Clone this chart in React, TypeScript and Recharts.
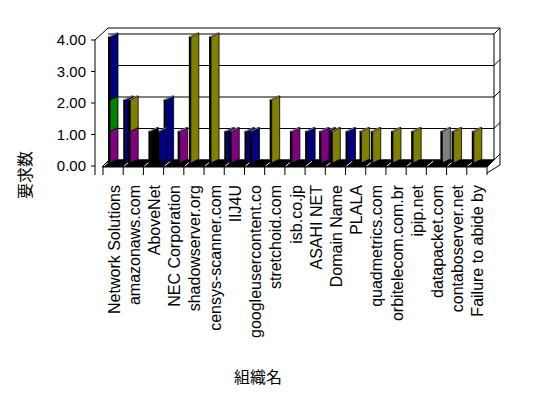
import { Bar, BarChart, CartesianGrid, ReferenceArea, XAxis, YAxis } from "recharts"

const NAVY = "#000080"
const PURPLE = "#800080"
const GREEN = "#008000"
const OLIVE = "#808000"
const GRAY = "#808080"
const BLACK = "#000000"

const categories = [
  "Network Solutions",
  "amazonaws.com",
  "AboveNet",
  "NEC Corporation",
  "shadowserver.org",
  "censys-scanner.com",
  "IIJ4U",
  "googleusercontent.co",
  "stretchoid.com",
  "isb.co.jp",
  "ASAHI NET",
  "Domain Name",
  "PLALA",
  "quadmetrics.com",
  "orbitelecom.com.br",
  "ipip.net",
  "datapacket.com",
  "contaboserver.net",
  "Failure to abide by",
]

// back-left slot
const slotA = [0, 2, 0, 2, 0, 0, 1, 1, 0, 0, 1, 1, 1, 0, 0, 0, 0, 0, 0]
const slotAColors = [NAVY, NAVY, NAVY, NAVY, NAVY, NAVY, NAVY, NAVY, NAVY, NAVY, NAVY, NAVY, NAVY, NAVY, NAVY, NAVY, NAVY, NAVY, NAVY]

// middle slot, visible segments from bottom up
const slotB1 = [1, 1, 1, 0, 4, 4, 1, 1, 2, 1, 0, 1, 0, 1, 1, 1, 0, 1, 1]
const slotB1Colors = [PURPLE, PURPLE, BLACK, OLIVE, OLIVE, OLIVE, PURPLE, NAVY, OLIVE, PURPLE, OLIVE, OLIVE, OLIVE, OLIVE, OLIVE, OLIVE, OLIVE, OLIVE, OLIVE]
const slotB2 = [1, 1, 0, 0, 0, 0, 0, 0, 0, 0, 0, 0, 0, 0, 0, 0, 0, 0, 0]
const slotB2Colors = [GREEN, OLIVE, OLIVE, OLIVE, OLIVE, OLIVE, OLIVE, OLIVE, OLIVE, OLIVE, OLIVE, OLIVE, OLIVE, OLIVE, OLIVE, OLIVE, OLIVE, OLIVE, OLIVE]
const slotB3 = [2, 0, 0, 0, 0, 0, 0, 0, 0, 0, 0, 0, 0, 0, 0, 0, 0, 0, 0]
const slotB3Colors = [NAVY, NAVY, NAVY, NAVY, NAVY, NAVY, NAVY, NAVY, NAVY, NAVY, NAVY, NAVY, NAVY, NAVY, NAVY, NAVY, NAVY, NAVY, NAVY]

// right slot
const slotR = [0, 0, 1, 1, 0, 0, 0, 0, 0, 0, 1, 0, 1, 0, 0, 0, 1, 0, 0]
const slotRColors = [NAVY, NAVY, NAVY, PURPLE, NAVY, NAVY, NAVY, NAVY, NAVY, NAVY, PURPLE, NAVY, OLIVE, NAVY, NAVY, NAVY, GRAY, NAVY, NAVY]

const yTicks = [0, 1, 2, 3, 4]

const data = categories.map((name, i) => ({
  name,
  a: slotA[i],
  b1: slotB1[i],
  b2: slotB2[i],
  b3: slotB3[i],
  r: slotR[i],
}))

const LATIN = "'Liberation Sans', Arial, sans-serif"
const CJK = "'Noto Sans CJK JP', sans-serif"

function Box3D({ x, y, height, color }: any) {
  if (!height || height < 0.5) return null
  const s = 2
  const g = 10
  const d = 4
  const x1 = x + s
  const x2 = x + g
  const bot = y + height
  return (
    <g>
      <polygon points={`${x1},${bot} ${x1},${y} ${x2},${y - d} ${x2},${bot - d}`} fill={color} stroke="#000" strokeWidth={0.8} />
      <rect x={x} y={y} width={s} height={height} fill="#000" />
      <polygon points={`${x},${y} ${x1},${y} ${x2},${y - d} ${x2 - s},${y - d}`} fill="#fff" stroke="#000" strokeWidth={0.5} />
    </g>
  )
}

function Frame({ x, y, width, height }: any) {
  const L = x
  const R = x + width
  const T = y
  const B = y + height
  const step = width / categories.length
  return (
    <g stroke="#000" fill="none">
      <polygon points={`${L - 1},${B + 4} ${R},${B + 4} ${R + 7},${B - 3} ${L + 6},${B - 3}`} fill="#000" />
      {categories.map((_, i) => (
        <line key={i} x1={L + i * step + 1} y1={B + 3} x2={L + i * step + 7} y2={B - 2} stroke="#fff" />
      ))}
      <line x1={L + 5} y1={T - 9} x2={R + 13} y2={T - 9} />
      <line x1={L - 8} y1={T + 3} x2={L + 5} y2={T - 9} />
      <line x1={R + 13} y1={T - 9} x2={R + 13} y2={B + 2} />
      <line x1={R + 7} y1={T - 3} x2={R + 7} y2={B - 3} />
      <line x1={R + 13} y1={B + 2} x2={R} y2={B + 10} />
      <line x1={L - 8} y1={T + 3} x2={L - 8} y2={B + 12} />
    </g>
  )
}

function GridLine({ x1, y1, x2 }: any) {
  return (
    <g stroke="#000" fill="none">
      <line x1={x1 + 5} y1={y1 - 3} x2={x2 + 7} y2={y1 - 3} />
      <line x1={x2 + 7} y1={y1 - 3} x2={x2 + 13} y2={y1 - 9} />
    </g>
  )
}

function CategoryTick({ x, y, payload, index, visibleTicksCount }: any) {
  const half = payload && typeof payload.offset === "number" && payload.offset > 0 ? payload.offset : 10.1
  const left = x - half
  const last = index === visibleTicksCount - 1
  return (
    <g>
      <line x1={left} y1={y + 4} x2={left} y2={y + 12} stroke="#000" />
      {last && <line x1={x + half} y1={y + 4} x2={x + half} y2={y + 12} stroke="#000" />}
      <text
        x={x + 1}
        y={y + 22}
        transform={`rotate(-90 ${x + 1} ${y + 22})`}
        textAnchor="end"
        dominantBaseline="central"
        fontSize={16}
        fontFamily={LATIN}
        fill="#000"
      >
        {payload.value}
      </text>
    </g>
  )
}

function ValueTick({ x, y, payload }: any) {
  return (
    <g>
      <line x1={x - 12} y1={y + 3} x2={x - 8} y2={y + 3} stroke="#000" />
      <text x={x - 17} y={y + 3} dy="0.35em" textAnchor="end" fontSize={15} fontFamily={LATIN} fill="#000">
        {Number(payload.value).toFixed(2)}
      </text>
    </g>
  )
}

export default function App() {
  return (
    <div style={{ position: "absolute", left: 0, top: 0, width: 548, height: 398, background: "#fff" }}>
      <BarChart width={548} height={398} data={data} margin={{ top: 37, right: 61, bottom: 0, left: 0 }} barGap={0}>
        <CartesianGrid vertical={false} horizontal={(p: any) => <GridLine key={p.key ?? p.y1} {...p} />} />
        <ReferenceArea x1={categories[0]} x2={categories[categories.length - 1]} y1={0} y2={4} shape={(p: any) => <Frame {...p} />} />
        <XAxis
          dataKey="name"
          interval={0}
          height={235}
          tickSize={0}
          tickMargin={0}
          tickLine={false}
          axisLine={false}
          tick={(p: any) => <CategoryTick {...p} />}
        />
        <YAxis
          width={103}
          domain={[0, 4]}
          ticks={yTicks}
          tickSize={0}
          tickMargin={0}
          tickLine={false}
          axisLine={false}
          tick={(p: any) => <ValueTick {...p} />}
        />
        <Bar dataKey="a" stackId="a" barSize={5} isAnimationActive={false} shape={(p: any) => <Box3D {...p} color={slotAColors[p.index]} />} />
        <Bar dataKey="b1" stackId="b" barSize={9} isAnimationActive={false} shape={(p: any) => <Box3D {...p} color={slotB1Colors[p.index]} />} />
        <Bar dataKey="b2" stackId="b" barSize={9} isAnimationActive={false} shape={(p: any) => <Box3D {...p} color={slotB2Colors[p.index]} />} />
        <Bar dataKey="b3" stackId="b" barSize={9} isAnimationActive={false} shape={(p: any) => <Box3D {...p} color={slotB3Colors[p.index]} />} />
        <Bar dataKey="r" stackId="r" barSize={6} isAnimationActive={false} shape={(p: any) => <Box3D {...p} color={slotRColors[p.index]} />} />
      </BarChart>
      <div
        style={{
          position: "absolute",
          left: 258,
          top: 376,
          transform: "translate(-50%, -50%)",
          fontFamily: CJK,
          fontSize: 16,
          lineHeight: 1,
          whiteSpace: "nowrap",
        }}
      >
        組織名
      </div>
      <div
        style={{
          position: "absolute",
          left: 24,
          top: 175,
          transform: "translate(-50%, -50%) rotate(-90deg)",
          fontFamily: CJK,
          fontSize: 16,
          lineHeight: 1,
          whiteSpace: "nowrap",
        }}
      >
        要求数
      </div>
    </div>
  )
}
